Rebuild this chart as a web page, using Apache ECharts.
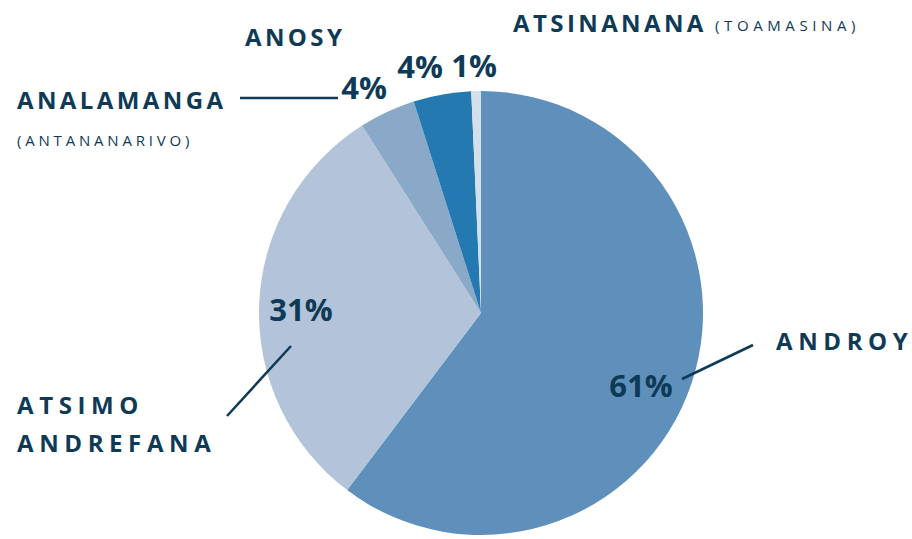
<!DOCTYPE html>
<html>
<head>
<meta charset="utf-8">
<script src="https://cdn.jsdelivr.net/npm/echarts@6/dist/echarts.min.js"></script>
<style>
  html, body { margin: 0; padding: 0; background: #ffffff; }
  #chart { width: 912px; height: 539px; }
  #chart text[style*="OPEN SANS"] { letter-spacing: 3.4px; }
  #chart text[style*="open sans"] { letter-spacing: 5.6px; }
  #chart text[style*="OPEN sans"] { letter-spacing: 3.8px; }
  #chart text[style*="OPEN Sans"] { letter-spacing: 4.6px; }
</style>
</head>
<body>
<div id="chart"></div>
<script>
// ---- data ----
const regions = ['Androy', 'Atsimo Andrefana', 'Analamanga', 'Anosy', 'Atsinanana'];
const shares = [60.3, 30.7, 4.1, 4.2, 0.7];
const pctLabels = ['61%', '31%', '4%', '4%', '1%'];
const sliceColors = ['#5f90bc', '#b3c4da', '#8aa8c8', '#2479b1', '#d5dfea'];
const nameTexts = ['ANDROY', 'ATSIMO', 'ANDREFANA', 'ANALAMANGA', 'ANOSY', 'ATSINANANA'];
const subTexts = ['(ANTANANARIVO)', '(TOAMASINA)'];

// ---- layout (label positions only) ----
const pctPos = [[641, 385], [301, 309], [364, 87], [420, 66], [474, 65]];
const ink = '#0e3a56';

const chart = echarts.init(document.getElementById('chart'), null, { renderer: 'svg', width: 912, height: 539 });

function txt(x, y, s, size, weight, family) {
  return {
    type: 'text', x: x, y: y, z: 10, silent: true,
    style: { text: s, fill: ink, fontSize: size, fontWeight: weight, fontFamily: family,
             textAlign: 'left', textVerticalAlign: 'middle' }
  };
}
function line(x1, y1, x2, y2) {
  return { type: 'line', z: 10, silent: true, shape: { x1: x1, y1: y1, x2: x2, y2: y2 },
           style: { stroke: ink, lineWidth: 2.5 } };
}

chart.setOption({
  animation: false,
  backgroundColor: '#ffffff',
  series: [{
    type: 'pie',
    center: [481, 313],
    radius: [0, 222],
    startAngle: 90,
    clockwise: true,
    avoidLabelOverlap: false,
    silent: true,
    data: regions.map((r, i) => ({ name: r, value: shares[i], itemStyle: { color: sliceColors[i] } })),
    itemStyle: { borderWidth: 0 },
    label: {
      show: true,
      formatter: p => pctLabels[p.dataIndex],
      color: ink,
      fontSize: 31,
      fontWeight: 'bold',
      fontFamily: 'Open Sans'
    },
    labelLine: { show: false },
    labelLayout: p => ({
      x: pctPos[p.dataIndex][0],
      y: pctPos[p.dataIndex][1],
      align: 'center',
      verticalAlign: 'middle'
    })
  }],
  graphic: [
    line(240, 98, 338, 98),
    line(227, 416, 291, 346),
    line(682, 379, 753, 345),
    txt(776, 340, nameTexts[0], 24, 'bold', 'open sans'),
    txt(17, 404, nameTexts[1], 24, 'bold', 'open sans'),
    txt(17, 442, nameTexts[2], 24, 'bold', 'open sans'),
    txt(17, 99, nameTexts[3], 24, 'bold', 'OPEN SANS'),
    txt(245, 36, nameTexts[4], 24, 'bold', 'OPEN SANS'),
    txt(513, 22, nameTexts[5], 24, 'bold', 'OPEN SANS'),
    txt(17, 140, subTexts[0], 15, 'normal', 'OPEN sans'),
    txt(715, 25, subTexts[1], 15, 'normal', 'OPEN Sans')
  ]
});
</script>
</body>
</html>
